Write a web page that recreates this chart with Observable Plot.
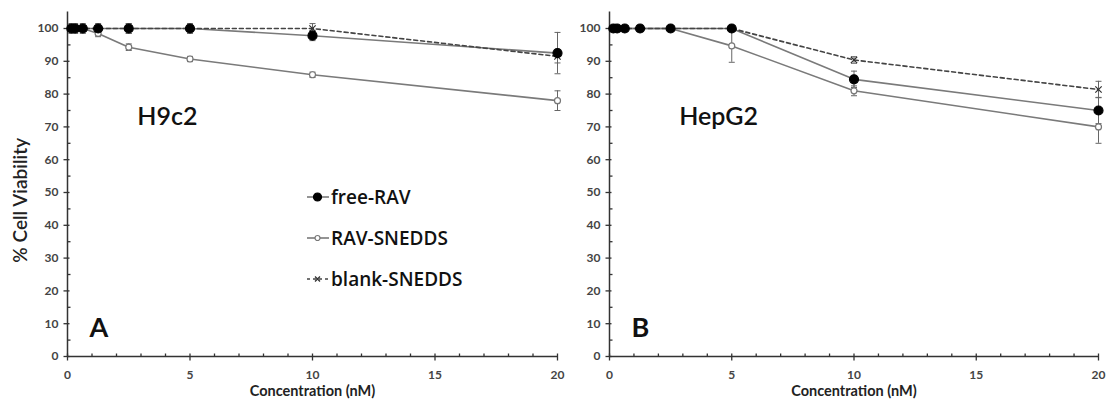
<!DOCTYPE html>
<html><head><meta charset="utf-8">
<script src="https://cdn.jsdelivr.net/npm/d3@7"></script>
<script src="https://cdn.jsdelivr.net/npm/@observablehq/plot@0.6"></script>
<style>
body{margin:0;background:#fff;}
#wrap{position:relative;width:1110px;height:405px;overflow:hidden;background:#fff;}
#legend{position:absolute;left:307px;top:183px;font-family:"Open Sans",sans-serif;font-weight:600;font-size:19px;color:#111;}
#legend .item{position:absolute;left:0;white-space:nowrap;display:flex;align-items:center;height:28px;}
#legend svg{margin-right:2px;}
</style></head><body><div id="wrap"><div id="legend"></div></div>
<script>
// ---- data ----
const conc = [0.156, 0.3125, 0.625, 1.25, 2.5, 5, 10, 20];
const seriesNames = ["free-RAV", "RAV-SNEDDS", "blank-SNEDDS"];
const panelLabels = ["A", "B"];
const cellLines = ["H9c2", "HepG2"];
const xTicks = [0, 5, 10, 15, 20];
const yTicks = [0, 10, 20, 30, 40, 50, 60, 70, 80, 90, 100];

const h9c2Free = [100, 100, 100, 100, 100, 100, 97.8, 92.5];
const h9c2FreeErr = [0, 0, 0, 0, 1.5, 1, 1.5, 6.3];
const h9c2Rav = [100, 100, 100, 98.5, 94.3, 90.7, 85.9, 78];
const h9c2RavErr = [0, 0, 0, 1, 1, 0.8, 0.8, 3];
const h9c2Blank = [100, 100, 100, 100, 100, 100, 100, 91.5];
const h9c2BlankErr = [1.5, 1.5, 1.5, 1.5, 1.5, 1.5, 1.5, 2];

const hepg2Free = [100, 100, 100, 100, 100, 100, 84.5, 75];
const hepg2FreeErr = [0, 0, 0, 0, 0, 0, 2.5, 4];
const hepg2Rav = [100, 100, 100, 100, 100, 94.7, 81, 70];
const hepg2RavErr = [0, 0, 0, 0, 0, 5, 1.5, 5];
const hepg2Blank = [100, 100, 100, 100, 100, 100, 90.4, 81.4];
const hepg2BlankErr = [0, 0, 0, 0, 0, 0, 1, 2.5];

// ---- helpers ----
const rows = (vals, errs, s) => conc.map((c, i) => ({conc: c, v: vals[i], e: errs[i], s}));
const capSym = {draw(ctx) { ctx.moveTo(-3, 0); ctx.lineTo(3, 0); }};
const yMajor = {draw(ctx) { ctx.moveTo(-4, 0); ctx.lineTo(2, 0); }};
const yMinor = {draw(ctx) { ctx.moveTo(0, 0); ctx.lineTo(3, 0); }};
const xMajor = {draw(ctx) { ctx.moveTo(0, -3); ctx.lineTo(0, 4); }};
const xMinor = {draw(ctx) { ctx.moveTo(0, -3); ctx.lineTo(0, 0); }};

const styleOf = {
  "free-RAV": {line: "#7a7a7a", dash: null, sym: "circle", r: 4.5, fill: "#000", stroke: "#000"},
  "RAV-SNEDDS": {line: "#7a7a7a", dash: null, sym: "circle", r: 3, fill: "#fff", stroke: "#777"},
  "blank-SNEDDS": {line: "#444", dash: "4,3", sym: "times", r: 3, fill: "none", stroke: "#333"}
};
const markerOrder = ["RAV-SNEDDS", "blank-SNEDDS", "free-RAV"];

function panel(free, freeErr, rav, ravErr, blank, blankErr, cellLine, letter, showYLabel, mLeft, mRight) {
  const data = [
    ...rows(rav, ravErr, "RAV-SNEDDS"),
    ...rows(free, freeErr, "free-RAV"),
    ...rows(blank, blankErr, "blank-SNEDDS")
  ];
  const errRows = data.filter(d => d.e > 0);
  const marks = [
    Plot.ruleX([0], {stroke: "#333", strokeWidth: 1.5}),
    Plot.ruleY([0], {stroke: "#333", strokeWidth: 1.5}),
    Plot.dot(yTicks, {x: 0, y: d => d, symbol: yMajor, stroke: "#333", fill: "none", strokeWidth: 1.3}),
    Plot.dot(d3.range(5, 101, 10), {x: 0, y: d => d, symbol: yMinor, stroke: "#333", fill: "none", strokeWidth: 1.3}),
    Plot.dot(xTicks, {x: d => d, y: 0, symbol: xMajor, stroke: "#333", fill: "none", strokeWidth: 1.3}),
    Plot.dot(d3.range(1, 20).filter(d => d % 5 !== 0), {x: d => d, y: 0, symbol: xMinor, stroke: "#333", fill: "none", strokeWidth: 1.3}),
    Plot.axisY({ticks: yTicks, tickSize: 0, tickPadding: 9, fontSize: 12, fontWeight: 700, fill: "#444", label: null}),
    Plot.axisX({ticks: xTicks, tickSize: 0, tickPadding: 14, fontSize: 12, fontWeight: 700, fill: "#444",
      label: null}),
    Plot.text(["Concentration (nM)"], {frameAnchor: "bottom", dy: 35, fontSize: 14.5, fontWeight: 700,
      fill: "#222", lineAnchor: "middle"})
  ];
  if (showYLabel) {
    marks.push(Plot.text(["% Cell Viability"], {frameAnchor: "left", rotate: -90, dx: -47, dy: 16,
      fontSize: 19, fontWeight: 600, fill: "#222", textAnchor: "middle", lineAnchor: "middle"}));
  }
  for (const s of seriesNames) {
    const st = styleOf[s];
    marks.push(Plot.line(data.filter(d => d.s === s), {x: "conc", y: "v", stroke: st.line, strokeWidth: 1.6,
      strokeDasharray: st.dash}));
  }
  marks.push(
    Plot.ruleX(errRows, {x: "conc", y1: d => d.v - d.e, y2: d => d.v + d.e, stroke: "#666", strokeWidth: 1}),
    Plot.dot(errRows, {x: "conc", y: d => d.v + d.e, symbol: capSym, stroke: "#666", fill: "none", strokeWidth: 1}),
    Plot.dot(errRows, {x: "conc", y: d => d.v - d.e, symbol: capSym, stroke: "#666", fill: "none", strokeWidth: 1})
  );
  for (const s of markerOrder) {
    const st = styleOf[s];
    marks.push(Plot.dot(data.filter(d => d.s === s), {x: "conc", y: "v", symbol: st.sym, r: st.r,
      fill: st.fill, stroke: st.stroke, strokeWidth: 1.2}));
  }
  marks.push(
    Plot.text([cellLine], {x: 2.85, y: 73, text: d => d, textAnchor: "start", fontSize: 25, fontWeight: 600,
      fill: "#111", fontFamily: "Lato, sans-serif"}),
    Plot.text([letter], {x: 0.9, y: 8.5, text: d => d, textAnchor: "start", fontSize: 27, fontWeight: 700,
      fill: "#111", fontFamily: "Lato, sans-serif"})
  );
  const svg = Plot.plot({
    width: 570, height: 405,
    marginLeft: mLeft, marginRight: mRight, marginTop: 11.6, marginBottom: 49,
    x: {domain: [0, 20]},
    y: {domain: [0, 105]},
    style: {fontFamily: "Lato, sans-serif", background: "transparent", color: "#333", overflow: "visible"},
    marks
  });
  svg.style.position = "absolute";
  svg.style.top = "0px";
  return svg;
}

const wrap = document.getElementById("wrap");
const pA = panel(h9c2Free, h9c2FreeErr, h9c2Rav, h9c2RavErr, h9c2Blank, h9c2BlankErr, cellLines[0], panelLabels[0], true, 67, 13);
pA.style.left = "0px";
const pB = panel(hepg2Free, hepg2FreeErr, hepg2Rav, hepg2RavErr, hepg2Blank, hepg2BlankErr, cellLines[1], panelLabels[1], false, 69, 12);
pB.style.left = "540px";
wrap.insertBefore(pA, wrap.firstChild);
wrap.insertBefore(pB, wrap.firstChild);

// legend (HTML overlay inside panel A)
const legend = document.getElementById("legend");
seriesNames.forEach((s, i) => {
  const st = styleOf[s];
  const item = document.createElement("div");
  item.className = "item";
  item.style.top = (i * 41) + "px";
  let marker;
  if (st.sym === "times") marker = `<path d="M8,-2.5L13,2.5M13,-2.5L8,2.5" stroke="${st.stroke}" stroke-width="1.3"/>`;
  else marker = `<circle cx="10.5" cy="0" r="${st.r - 0.5}" fill="${st.fill}" stroke="${st.stroke}" stroke-width="1.2"/>`;
  item.innerHTML = `<svg width="22" height="12" viewBox="0 -6 22 12"><line x1="0" x2="22" y1="0" y2="0" stroke="${st.line}" stroke-width="1.6" ${st.dash ? `stroke-dasharray="3,3"` : ""}/>${marker}</svg><span>${s}</span>`;
  legend.appendChild(item);
});
</script></body></html>
